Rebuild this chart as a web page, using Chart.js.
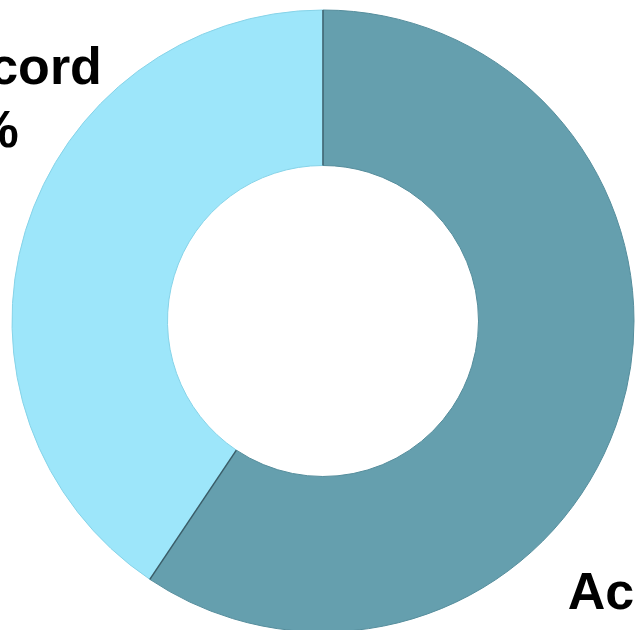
<!DOCTYPE html>
<html>
<head>
<meta charset="utf-8">
<script src="https://cdn.jsdelivr.net/npm/chart.js@4"></script>
<style>
  html, body { margin: 0; padding: 0; background: #fff; overflow: hidden; }
  #wrap { width: 635px; height: 630px; }
</style>
</head>
<body>
<div id="wrap"><canvas id="chartCanvas" width="635" height="630"></canvas></div>
<script>
const categories = ["Accord", "Discord"];
const shares = [59.4, 40.6];
const sliceColors = ["#659fae", "#9de6fa"];
const edgeColors = ["#558d9c", "#86d3e8"];

// dark seam where the two slices meet, taken from the arc angles
const seamPlugin = {
    id: "seams",
    afterDatasetsDraw(chart) {
        const ctx = chart.ctx;
        const arcs = chart.getDatasetMeta(0).data;
        ctx.save();
        ctx.strokeStyle = "#3a5c67";
        ctx.lineWidth = 1.5;
        arcs.forEach(a => {
            const ang = a.startAngle;
            ctx.beginPath();
            ctx.moveTo(a.x + Math.cos(ang) * a.innerRadius, a.y + Math.sin(ang) * a.innerRadius);
            ctx.lineTo(a.x + Math.cos(ang) * a.outerRadius, a.y + Math.sin(ang) * a.outerRadius);
            ctx.stroke();
        });
        ctx.restore();
    }
};

// data labels sit outside the ring, partly cut off by the canvas edge
const labelPlugin = {
    id: "outerLabels",
    afterDatasetsDraw(chart) {
        const ctx = chart.ctx;
        const arcs = chart.getDatasetMeta(0).data;
        const cx = arcs[0].x, cy = arcs[0].y, r = arcs[0].outerRadius;
        ctx.save();
        ctx.fillStyle = "#000";
        ctx.font = "bold 52px 'Liberation Sans', Arial, sans-serif";
        ctx.textBaseline = "alphabetic";
        // light slice label, top left
        ctx.textAlign = "right";
        ctx.fillText(categories[1], cx - r * 0.711, cy - r * 0.762);
        ctx.fillText(Math.round(shares[1]) + "%", cx - r * 0.978, cy - r * 0.56);
        // dark slice label, bottom right
        ctx.textAlign = "left";
        ctx.fillText(categories[0], cx + r * 0.787, cy + r * 0.927);
        ctx.fillText(Math.round(shares[0]) + "%", cx + r * 0.787, cy + r * 1.14);
        ctx.restore();
    }
};

const chartCanvas = document.getElementById("chartCanvas");
new Chart(chartCanvas, {
    type: "doughnut",
    data: {
        labels: categories,
        datasets: [{
            data: shares,
            backgroundColor: sliceColors,
            borderColor: edgeColors,
            borderWidth: 1,
            hoverOffset: 0,
            clip: false
        }]
    },
    options: {
        responsive: false,
        animation: false,
        cutout: "50%",
        radius: 311,
        layout: { padding: { left: 11, top: 12, right: 0, bottom: 0 } },
        plugins: {
            legend: { display: false },
            tooltip: { enabled: false }
        }
    },
    plugins: [seamPlugin, labelPlugin]
});
</script>
</body>
</html>
